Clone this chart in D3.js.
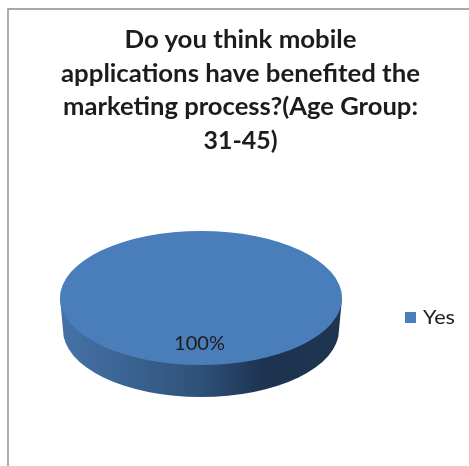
<!DOCTYPE html>
<html><head><meta charset="utf-8">
<script src="https://cdn.jsdelivr.net/npm/d3@7"></script>
<style>html,body{margin:0;padding:0;background:#fff;overflow:hidden}svg{display:block;filter:blur(.4px)}</style>
</head><body><div id="c"></div>
<script>
const categories = ["Yes"];
const seriesValues = [100];
const titleLines = ["Do you think mobile","applications have benefited the","marketing process?(Age Group:","31-45)"];
const colors = ["#4A7EBB"];

const W=469,H=466;
const svg=d3.select("#c").append("svg").attr("width",W).attr("height",H);
const font="Lato, sans-serif";

// frame
svg.append("path").attr("d",d3.line()([[8,H],[8,9],[W,9]])).attr("fill","none").attr("stroke","#8c8c8c").attr("stroke-width",1.4);

// title
const titleY=d3.scalePoint().domain(d3.range(titleLines.length)).range([48,149]);
svg.append("g").selectAll("text").data(titleLines).join("text")
  .attr("x",240.5).attr("y",(d,i)=>titleY(i)).attr("text-anchor","middle")
  .attr("font-family",font).attr("font-weight","bold").attr("font-size",25)
  .attr("fill","#1c1c1c").attr("textLength",(d,i)=>[232,359,355,74][i]).attr("lengthAdjust","spacingAndGlyphs").text(d=>d);

// pie
const cx=201,cy=298,rx=141,ry=67,depth=32,inset=3;
const grad=svg.append("defs").append("linearGradient").attr("id","side").attr("x1","0").attr("x2","1").attr("y1","0").attr("y2","0");
[[0,"#4672a6"],[.25,"#3a6391"],[.5,"#2e5178"],[.72,"#1d3350"],[1,"#1e3550"]].forEach(s=>grad.append("stop").attr("offset",s[0]).attr("stop-color",s[1]));

const pie=d3.pie().sort(null)(seriesValues);
const arc=d3.arc().innerRadius(0).outerRadius(rx);

// side wall: lower half of the ellipse extruded downward
svg.append("path").attr("d",`M${cx-rx},${cy} L${cx-rx+inset},${cy+depth} A${rx-inset},${ry} 0 0 0 ${cx+rx-inset},${cy+depth} L${cx+rx},${cy} Z`).attr("fill","url(#side)");

// top face
svg.append("g").attr("transform",`translate(${cx},${cy}) scale(1,${ry/rx})`)
  .selectAll("path").data(pie).join("path").attr("d",arc).attr("fill",(d,i)=>colors[i]);

// data label
svg.selectAll("text.lbl").data(pie).join("text").attr("class","lbl")
  .attr("x",199.5).attr("y",350).attr("text-anchor","middle")
  .attr("font-family",font).attr("font-size",20).attr("fill","#1c1c1c")
  .text(d=>d3.format(".0f")(d.value)+"%");

// legend
const lg=svg.append("g").selectAll("g").data(categories).join("g");
lg.append("rect").attr("x",405).attr("y",312).attr("width",11).attr("height",11).attr("fill",(d,i)=>colors[i]);
lg.append("text").attr("x",423).attr("y",324).attr("font-family",font).attr("font-size",20).attr("textLength",32).attr("lengthAdjust","spacingAndGlyphs").attr("fill","#1c1c1c").text(d=>d);
</script></body></html>
